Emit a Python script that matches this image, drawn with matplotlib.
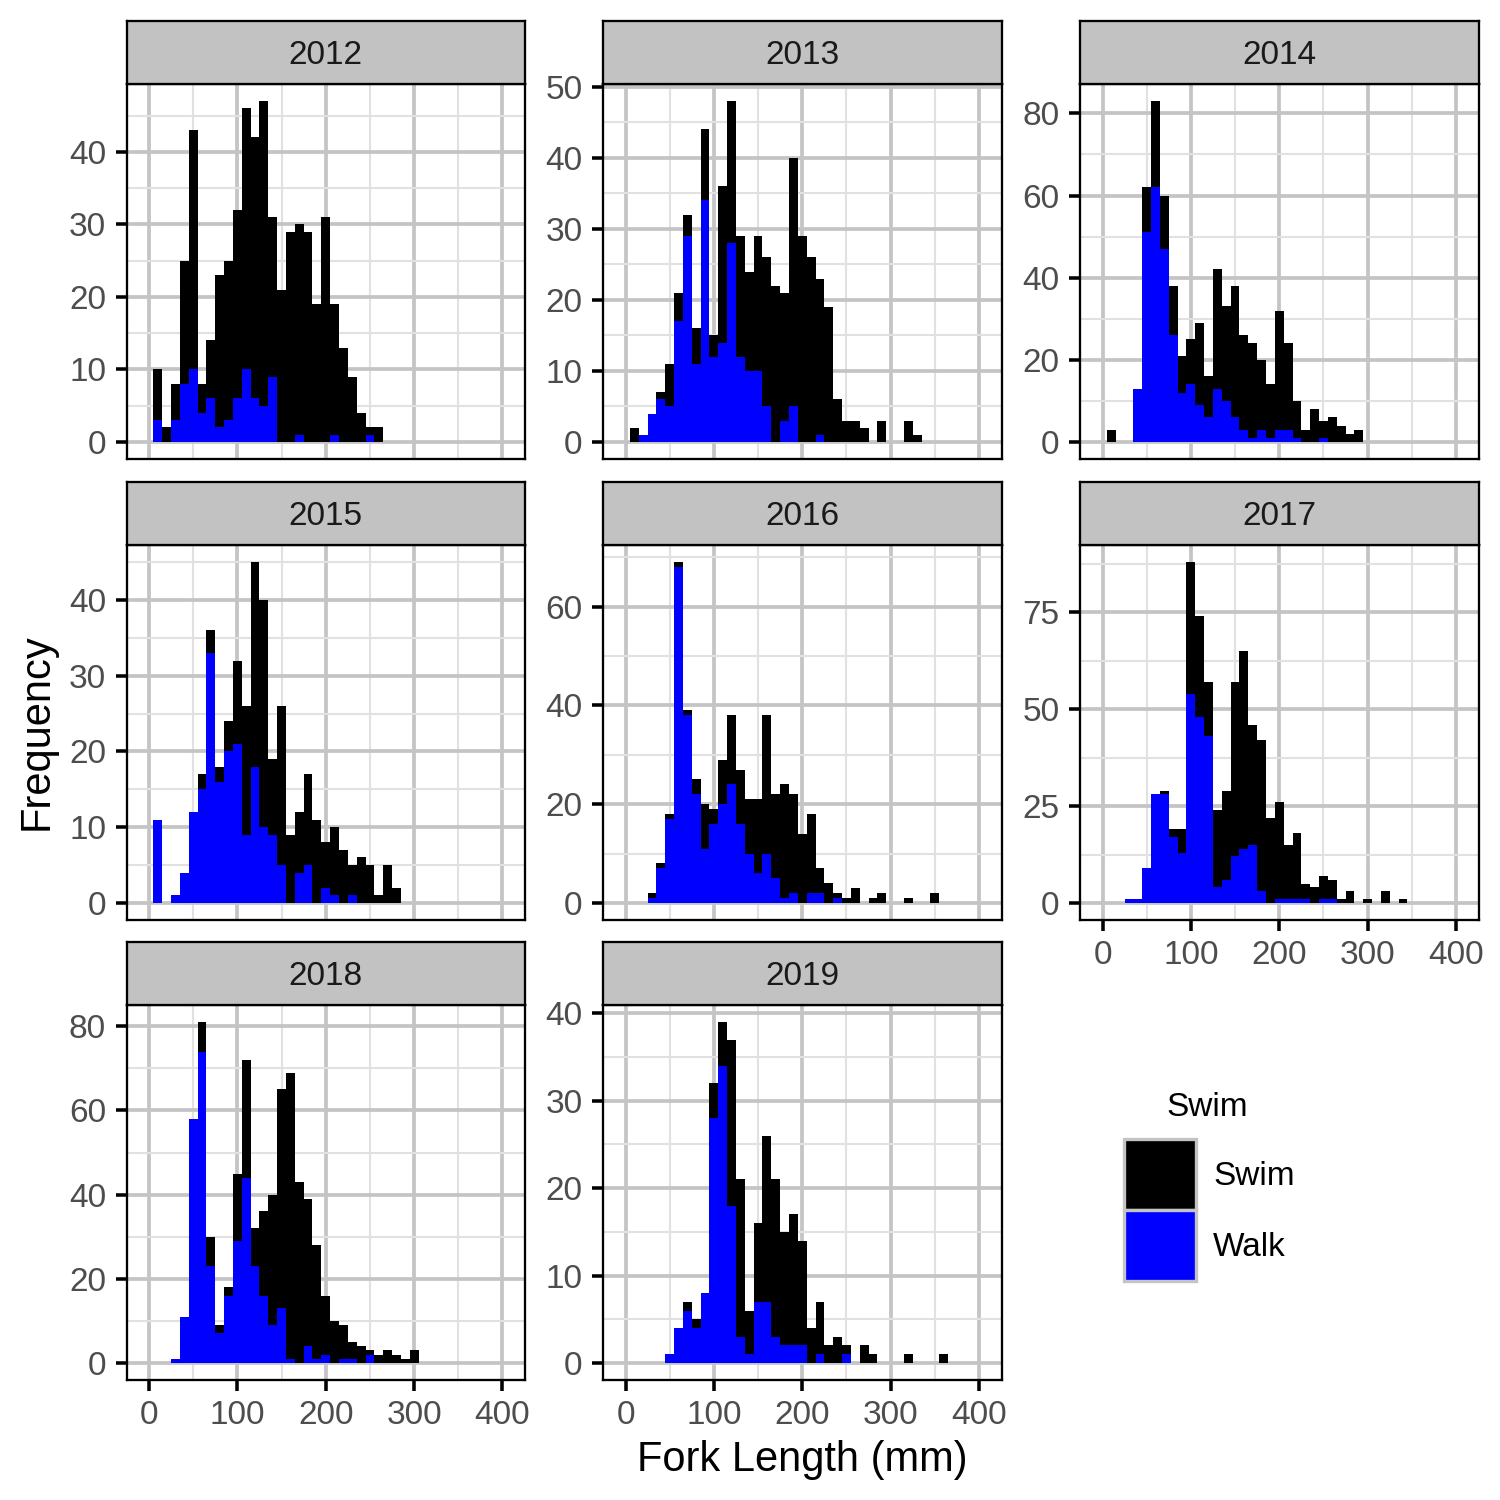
import matplotlib
matplotlib.use('Agg')
import matplotlib.pyplot as plt
from matplotlib.patches import Rectangle
from matplotlib.ticker import MultipleLocator, FixedLocator
import numpy as np

plt.rcParams['font.family'] = ['Liberation Sans', 'DejaVu Sans']

# counts per 10 mm bin, bins centred on multiples of 10
start_2012 = 10
swim_2012 = [7, 2, 5, 17, 33, 4, 8, 21, 22, 26, 36, 36, 42, 22, 21, 29, 29, 29, 19, 31, 18, 13, 9, 4, 1, 2]
walk_2012 = [3, 0, 3, 8, 10, 4, 6, 2, 3, 6, 10, 6, 5, 9, 0, 0, 1, 0, 0, 0, 1, 0, 0, 0, 1, 0]

start_2013 = 10
swim_2013 = [2, 0, 0, 1, 6, 4, 3, 5, 10, 3, 22, 20, 17, 14, 19, 21, 22, 18, 35, 29, 26, 22, 19, 6, 3, 3, 2, 0, 3, 0, 0, 3, 1]
walk_2013 = [0, 1, 4, 6, 5, 17, 29, 11, 34, 12, 14, 28, 12, 10, 10, 5, 0, 3, 5, 0, 0, 1, 0, 0, 0, 0, 0, 0, 0, 0, 0, 0, 0]

start_2014 = 10
swim_2014 = [3, 0, 0, 0, 11, 21, 13, 12, 9, 11, 20, 10, 29, 23, 32, 23, 23, 17, 13, 29, 21, 9, 3, 8, 4, 6, 4, 2, 3]
walk_2014 = [0, 0, 0, 13, 51, 62, 47, 26, 12, 14, 9, 6, 13, 10, 6, 3, 1, 3, 1, 3, 3, 1, 0, 0, 1, 0, 0, 0, 0]

start_2015 = 10
swim_2015 = [0, 0, 0, 0, 0, 2, 3, 2, 4, 11, 17, 27, 30, 10, 21, 9, 8, 12, 11, 6, 9, 7, 4, 6, 5, 1, 5, 2]
walk_2015 = [11, 0, 1, 4, 12, 15, 33, 16, 20, 21, 9, 18, 10, 9, 5, 0, 4, 5, 0, 2, 1, 0, 1, 0, 0, 0, 0, 0]

start_2016 = 30
swim_2016 = [1, 1, 1, 1, 1, 3, 9, 3, 9, 14, 11, 11, 15, 28, 17, 23, 20, 14, 16, 5, 4, 1, 1, 3, 0, 1, 2, 0, 0, 1, 0, 0, 2]
walk_2016 = [1, 7, 17, 68, 38, 22, 11, 16, 20, 24, 16, 10, 6, 10, 5, 1, 2, 0, 2, 2, 0, 1, 0, 0, 0, 0, 0, 0, 0, 0, 0, 0, 0]

start_2017 = 30
swim_2017 = [0, 0, 0, 0, 1, 2, 6, 34, 26, 14, 20, 23, 45, 51, 31, 39, 22, 25, 14, 17, 4, 4, 6, 5, 1, 3, 0, 1, 0, 3, 0, 1]
walk_2017 = [1, 1, 9, 28, 28, 17, 13, 54, 48, 43, 4, 6, 12, 14, 15, 3, 0, 1, 1, 1, 1, 0, 1, 1, 0, 0, 0, 0, 0, 0, 0, 0]

start_2018 = 30
swim_2018 = [0, 0, 0, 7, 7, 2, 2, 16, 28, 9, 20, 31, 52, 68, 43, 35, 27, 14, 10, 8, 4, 4, 1, 2, 3, 2, 1, 3]
walk_2018 = [1, 11, 58, 74, 23, 7, 16, 29, 44, 23, 16, 9, 13, 1, 0, 4, 1, 2, 0, 1, 1, 0, 2, 0, 0, 0, 0, 0]

start_2019 = 50
swim_2019 = [0, 0, 1, 1, 0, 4, 5, 19, 18, 5, 9, 19, 18, 13, 15, 12, 4, 6, 2, 3, 1, 0, 2, 1, 0, 0, 0, 1, 0, 0, 0, 1]
walk_2019 = [1, 4, 6, 4, 8, 28, 34, 18, 3, 1, 7, 7, 3, 2, 2, 2, 0, 1, 0, 0, 1, 0, 0, 0, 0, 0, 0, 0, 0, 0, 0, 0]

years = ['2012', '2013', '2014', '2015', '2016', '2017', '2018', '2019']
starts = [start_2012, start_2013, start_2014, start_2015, start_2016, start_2017, start_2018, start_2019]
swims = [swim_2012, swim_2013, swim_2014, swim_2015, swim_2016, swim_2017, swim_2018, swim_2019]
walks = [walk_2012, walk_2013, walk_2014, walk_2015, walk_2016, walk_2017, walk_2018, walk_2019]
y_steps = [10, 10, 20, 10, 20, 25, 20, 10]

legend_labels = ['Swim', 'Walk']
fill_colors = ['black', 'blue']

BIN = 10
X_TICKS = [0, 100, 200, 300, 400]
XLIM = (-25.5, 425.5)

W = H = 1500.0
col_left = [126.5, 603, 1080]
row_top = [84, 545, 1005]
pw, ph, sh = 398.5, 375, 63

MAJOR_GRID = '#C4C4C4'
MINOR_GRID = '#E1E1E1'

fig = plt.figure(figsize=(5, 5), dpi=300)

for i, yr in enumerate(years):
    r, c = divmod(i, 3)
    l, t = col_left[c], row_top[r]
    ax = fig.add_axes([l / W, 1 - (t + ph) / H, pw / W, ph / H])
    strip = fig.add_axes([l / W, 1 - t / H, pw / W, sh / H])

    swim = np.array(swims[i])
    walk = np.array(walks[i])
    centers = starts[i] + BIN * np.arange(len(swim))
    ax.bar(centers, walk, width=BIN, color=fill_colors[1], linewidth=0, zorder=2)
    ax.bar(centers, swim, bottom=walk, width=BIN, color=fill_colors[0], linewidth=0, zorder=2)

    ymax = (swim + walk).max()
    ax.set_ylim(-0.05 * ymax, 1.05 * ymax)
    ax.set_xlim(*XLIM)

    step = y_steps[i]
    ax.yaxis.set_major_locator(MultipleLocator(step))
    ax.yaxis.set_minor_locator(FixedLocator(np.arange(step / 2, ymax * 1.05, step)))
    ax.xaxis.set_major_locator(FixedLocator(X_TICKS))
    ax.xaxis.set_minor_locator(FixedLocator([50, 150, 250, 350]))

    ax.set_axisbelow(True)
    ax.grid(which='major', color=MAJOR_GRID, linewidth=0.9)
    ax.grid(which='minor', color=MINOR_GRID, linewidth=0.5)

    ax.tick_params(which='minor', length=0)
    ax.tick_params(which='major', length=2.7, width=0.85, color='black',
                   labelsize=8, labelcolor='#4D4D4D', pad=2.2)
    if yr not in ('2017', '2018', '2019'):
        ax.tick_params(axis='x', length=0, labelbottom=False)
    for s in ax.spines.values():
        s.set_linewidth(0.55)
        s.set_color('black')

    strip.set_facecolor('#C2C2C2')
    strip.set_xticks([])
    strip.set_yticks([])
    for s in strip.spines.values():
        s.set_linewidth(0.55)
        s.set_color('black')
    strip.text(0.5, 0.45, yr, ha='center', va='center', fontsize=8, color='#1A1A1A',
               transform=strip.transAxes)

fig.text(802 / W, 1 - 1460 / H, 'Fork Length (mm)', ha='center', va='center', fontsize=10)
fig.text(37 / W, 1 - 732 / H, 'Frequency', ha='center', va='center', rotation=90, fontsize=10)

# legend
fig.text(1207 / W, 1 - 1107 / H, 'Swim', ha='center', va='center', fontsize=8)
key_tops = [1138.5, 1210]
for lab, col, kt in zip(legend_labels, fill_colors, key_tops):
    fig.add_artist(Rectangle((1123.5 / W, 1 - (kt + 71) / H), 72 / W, 71 / H,
                             transform=fig.transFigure, facecolor=col,
                             edgecolor='#C4C4C4', linewidth=0.8))
    fig.text(1213 / W, 1 - (kt + 38) / H, lab, ha='left', va='center', fontsize=8)

fig.savefig('out.png', dpi=300)
